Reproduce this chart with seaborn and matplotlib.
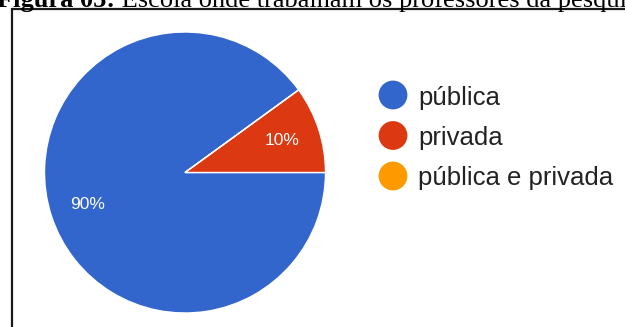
import matplotlib
matplotlib.use("Agg")
import matplotlib.pyplot as plt
import seaborn as sns
from matplotlib.patches import Rectangle

categories = ["pública", "privada", "pública e privada"]
values = [90, 10, 0]
colors = ["#3366CC", "#DC3912", "#FF9900"]
caption_bold = "Figura 05:"
caption_rest = " Escola onde trabalham os professores da pesquisa"

sns.set_theme(style="white")
plt.rcParams['font.family'] = ['Liberation Sans', 'DejaVu Sans']

W, H = 625, 327
fig = plt.figure(figsize=(W / 100, H / 100), dpi=100)
fig.patch.set_facecolor("white")

def fx(px):
    return px / W

def fy(py):
    return 1 - py / H

# frame box
fig.patches.append(Rectangle((fx(12), fy(400)), fx(700), (400 - 9) / H,
                             transform=fig.transFigure, fill=False,
                             edgecolor="#1a1a1a", linewidth=1.6))

# pie axes
cx, cy, r = 185, 172.5, 140.5
ax = fig.add_axes([fx(cx - r), fy(cy + r), 2 * r / W, 2 * r / H])
ax.pie(values, colors=colors, startangle=36, counterclock=True,
       autopct=lambda p: f"{p:.0f}%" if p > 0.5 else "",
       pctdistance=0.73, radius=1,
       wedgeprops=dict(edgecolor="white", linewidth=1.0),
       textprops=dict(color="white", fontsize=12.5, family="Liberation Sans"))
ax.set_xlim(-1, 1)
ax.set_ylim(-1, 1)
ax.set_aspect("auto")
ax.axis("off")

# legend
lax = fig.add_axes([0, 0, 1, 1])
lax.set_xlim(0, W)
lax.set_ylim(H, 0)
lax.axis("off")
ys = [95, 135.5, 176]
for cat, col, y in zip(categories, colors, ys):
    lax.scatter([393], [y], s=430, color=col, edgecolors="none")
    lax.text(418, y, cat, fontsize=18.5, color="#222222", va="center_baseline",
             ha="left", family="Liberation Sans")

# caption (partially cut at top)
t1 = fig.text(fx(-3), fy(7), caption_bold, fontsize=19, fontweight="bold",
              family="Liberation Serif", color="black", va="baseline", ha="left")
fig.canvas.draw()
bb = t1.get_window_extent(renderer=fig.canvas.get_renderer())
fig.text(bb.x1 / W, fy(7), caption_rest, fontsize=19,
         family="Liberation Serif", color="black", va="baseline", ha="left")

fig.savefig("out.png", dpi=100)
